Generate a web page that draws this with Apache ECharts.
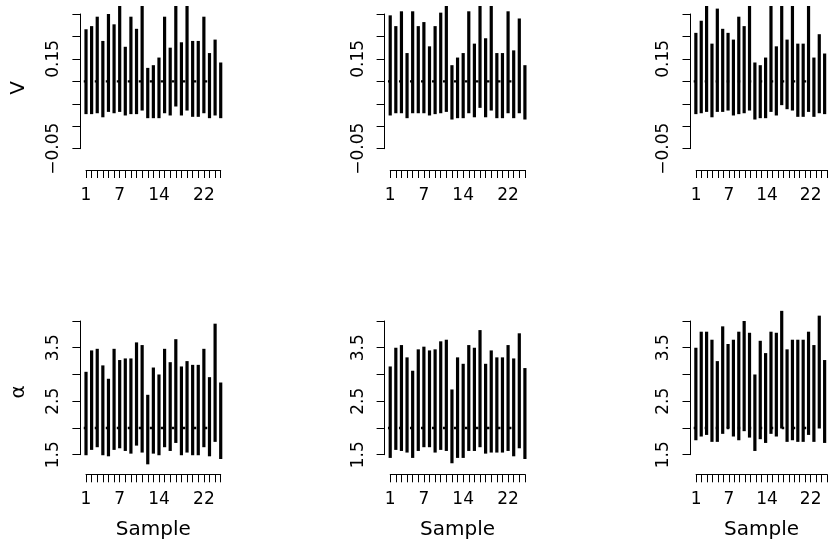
<!DOCTYPE html>
<html><head><meta charset="utf-8">
<script src="https://cdn.jsdelivr.net/npm/echarts@6/dist/echarts.min.js"></script>
<style>html,body{margin:0;padding:0;background:#fff}#c{width:830px;height:551px}</style>
</head><body><div id="c"></div>
<script>
// ---------- data ----------
const samples = [1,2,3,4,5,6,7,8,9,10,11,12,13,14,15,16,17,18,19,20,21,22,23,24,25];

const v1Hi = [0.216,0.223,0.244,0.190,0.250,0.227,0.290,0.177,0.244,0.217,0.300,0.130,0.136,0.153,0.244,0.175,0.310,0.187,0.290,0.190,0.190,0.244,0.163,0.193,0.142];
const v1Lo = [0.027,0.027,0.029,0.020,0.032,0.029,0.032,0.024,0.027,0.027,0.035,0.018,0.018,0.018,0.029,0.024,0.044,0.024,0.035,0.021,0.021,0.029,0.018,0.024,0.018];

const v2Hi = [0.247,0.223,0.256,0.163,0.256,0.223,0.232,0.178,0.223,0.253,0.290,0.136,0.153,0.163,0.256,0.184,0.310,0.196,0.300,0.163,0.163,0.256,0.169,0.240,0.136];
const v2Lo = [0.024,0.029,0.029,0.018,0.029,0.029,0.029,0.024,0.027,0.029,0.032,0.015,0.018,0.018,0.029,0.020,0.041,0.020,0.035,0.018,0.018,0.029,0.018,0.029,0.015];

const v3Hi = [0.208,0.235,0.290,0.184,0.262,0.217,0.208,0.193,0.244,0.223,0.300,0.142,0.136,0.153,0.290,0.178,0.310,0.193,0.290,0.184,0.184,0.290,0.153,0.205,0.162];
const v3Lo = [0.027,0.029,0.032,0.020,0.032,0.032,0.035,0.024,0.027,0.029,0.035,0.015,0.018,0.018,0.032,0.024,0.047,0.038,0.035,0.021,0.021,0.032,0.021,0.029,0.027];

const a1Hi = [3.05,3.45,3.48,3.17,2.92,3.48,3.27,3.30,3.30,3.60,3.55,2.62,3.13,3.00,3.48,3.23,3.66,3.15,3.25,3.18,3.18,3.48,2.95,3.95,2.85];
const a1Lo = [1.49,1.59,1.64,1.49,1.47,1.59,1.62,1.57,1.52,1.67,1.54,1.32,1.52,1.49,1.64,1.57,1.72,1.49,1.54,1.49,1.49,1.64,1.47,1.74,1.42];

const a2Hi = [3.15,3.50,3.55,3.32,3.07,3.47,3.52,3.45,3.47,3.62,3.65,2.72,3.32,3.20,3.55,3.50,3.83,3.20,3.45,3.32,3.32,3.55,3.30,3.77,3.12];
const a2Lo = [1.44,1.59,1.57,1.54,1.44,1.57,1.64,1.64,1.54,1.59,1.57,1.34,1.44,1.44,1.57,1.57,1.64,1.52,1.54,1.54,1.54,1.57,1.47,1.62,1.42];

const a3Hi = [3.50,3.80,3.80,3.65,3.25,3.90,3.57,3.65,3.80,4.00,3.78,3.00,3.63,3.40,3.80,3.78,4.19,3.47,3.65,3.65,3.65,3.80,3.55,4.10,3.27];
const a3Lo = [1.77,1.84,1.87,1.74,1.74,1.89,1.99,1.84,1.77,1.94,1.82,1.57,1.79,1.72,1.89,1.84,1.99,1.74,1.77,1.74,1.74,1.87,1.74,1.99,1.72];

const refV = 0.10;     // dotted reference line, top row
const refA = 2.0;      // dotted reference line, bottom row
const refSpan = [0.6, 23.2];

const yTickValsV = [-0.05, 0.15];
const yTickTextV = ['\u22120.05', '0.15'];
const yTickValsA = [1.5, 2.5, 3.5];
const yTickTextA = ['1.5', '2.5', '3.5'];
const xTickVals = [1, 7, 14, 22];

const rowTitles = ['V', '\u03b1'];
const xTitle = 'Sample';

// ---------- layout ----------
const colLeft = [80.4, 384.6, 690.5];
const unit = 5.6125;
const rows = [
  {plotTop:6, plotBottom:170, yMin:-0.0974, yMax:0.2678, tickTop:14, tickBottom:148.7,
   axMin:-0.05, axMax:0.25, interval:0.05, tv:yTickValsV, tt:yTickTextV, ref:refV,
   panels:[[v1Lo,v1Hi],[v2Lo,v2Hi],[v3Lo,v3Hi]]},
  {plotTop:309.3, plotBottom:474.3, yMin:1.1335, yMax:4.2188, tickTop:321, tickBottom:454.7,
   axMin:1.5, axMax:4.0, interval:0.5, tv:yTickValsA, tt:yTickTextA, ref:refA,
   panels:[[a1Lo,a1Hi],[a2Lo,a2Hi],[a3Lo,a3Hi]]}
];

const FONT = 'DejaVu Sans';
const grids = [], xAxes = [], yAxes = [], series = [], graphics = [];
const hidden = {show:false};

function renderBar(params, api) {
  const x = api.value(0), lo = api.value(1), hi = api.value(2);
  const p1 = api.coord([x, hi]), p2 = api.coord([x, lo]);
  const w = 3.2;
  const cs = params.coordSys;
  const r = echarts.graphic.clipRectByRect(
    {x: p1[0] - w/2, y: p1[1], width: w, height: p2[1] - p1[1]},
    {x: cs.x, y: cs.y, width: cs.width, height: cs.height});
  if (!r) return null;
  return {type:'rect', shape:r, style:{fill:'#000'}};
}

rows.forEach((row, ri) => {
  row.panels.forEach((pd, ci) => {
    const L = colLeft[ci];
    const g = grids.length;
    // plot region grid (bars)
    grids.push({left:L, top:row.plotTop, width:26*unit, height:row.plotBottom-row.plotTop, containLabel:false});
    xAxes.push({gridIndex:g, type:'value', min:0, max:26, show:false});
    yAxes.push({gridIndex:g, type:'value', min:row.yMin, max:row.yMax, show:false});
    series.push({
      type:'custom', xAxisIndex:g, yAxisIndex:g, renderItem:renderBar,
      encode:{x:0, y:[1,2]}, silent:true,
      data: samples.map((s,i)=>[s, pd[0][i], pd[1][i]])
    });
    series.push({
      type:'line', xAxisIndex:g, yAxisIndex:g, symbol:'none', silent:true, z:3,
      lineStyle:{color:'#000', width:2.4, type:[2.5,8.5], cap:'butt'},
      data:[[refSpan[0], row.ref],[refSpan[1], row.ref]]
    });
    // y axis grid
    const gy = grids.length;
    grids.push({left:L, top:row.tickTop, width:10, height:row.tickBottom-row.tickTop});
    xAxes.push({gridIndex:gy, type:'value', show:false});
    yAxes.push({gridIndex:gy, type:'value', min:row.axMin, max:row.axMax, interval:row.interval,
      axisLine:{show:true, lineStyle:{color:'#000', width:1}},
      axisTick:{show:true, length:8, lineStyle:{color:'#000', width:1}},
      splitLine:{show:false},
      axisLabel:{show:true, rotate:90, margin:18, color:'#000', fontFamily:FONT, fontSize:17,
        formatter:(v)=>{ for (let k=0;k<row.tv.length;k++){ if (Math.abs(v-row.tv[k])<1e-9) return row.tt[k]; } return ''; }}
    });
    // x axis grid
    const gx = grids.length;
    grids.push({left:L+unit, top:row.plotBottom-10, width:24*unit, height:10});
    xAxes.push({gridIndex:gx, type:'value', min:1, max:25, interval:1, position:'bottom',
      axisLine:{show:true, onZero:false, lineStyle:{color:'#000', width:1}},
      axisTick:{show:true, length:8, lineStyle:{color:'#000', width:1}},
      splitLine:{show:false},
      axisLabel:{show:true, margin:17, color:'#000', fontFamily:FONT, fontSize:17,
        formatter:(v)=> xTickVals.indexOf(Math.round(v))>=0 && Math.abs(v-Math.round(v))<1e-9 ? String(Math.round(v)) : ''},
      name: ri===1 ? xTitle : '', nameLocation:'middle', nameGap:45,
      nameTextStyle:{color:'#000', fontFamily:FONT, fontSize:20}
    });
    yAxes.push({gridIndex:gx, type:'value', show:false});
  });
  graphics.push({type:'text', x:18.5, y:(row.plotTop+row.plotBottom)/2, rotation:Math.PI/2,
    style:{text:rowTitles[ri], fill:'#000', font:'20px "DejaVu Sans"', textAlign:'center', textVerticalAlign:'middle'}});
});

const chart = echarts.init(document.getElementById('c'), null, {renderer:'canvas'});
chart.setOption({
  backgroundColor:'#fff',
  animation:false,
  grid:grids, xAxis:xAxes, yAxis:yAxes, series:series, graphic:graphics
});
</script>
</body></html>
